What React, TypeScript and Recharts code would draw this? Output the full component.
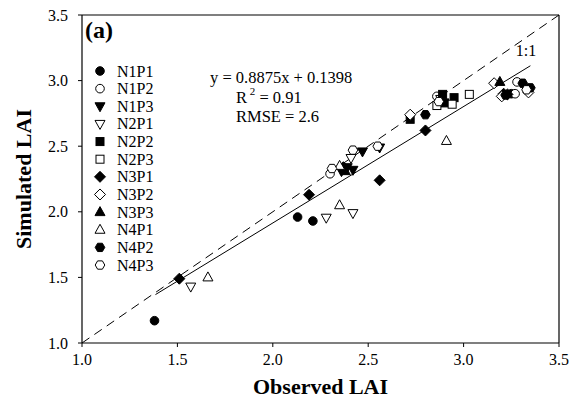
import React from 'react';
import { ScatterChart, Scatter, XAxis, YAxis, ReferenceLine, Customized } from 'recharts';

const xTicks = [1.0, 1.5, 2.0, 2.5, 3.0, 3.5];
const yTicks = [1.0, 1.5, 2.0, 2.5, 3.0, 3.5];

const N1P1 = [{ x: 1.38, y: 1.17 }, { x: 2.13, y: 1.96 }, { x: 2.21, y: 1.93 }, { x: 3.25, y: 2.9 }];
const N1P2 = [{ x: 2.3, y: 2.29 }, { x: 2.86, y: 2.88 }, { x: 3.28, y: 2.99 }, { x: 3.27, y: 2.9 }];
const N1P3 = [{ x: 2.36, y: 2.31 }, { x: 2.39, y: 2.34 }, { x: 2.42, y: 2.32 }, { x: 2.47, y: 2.46 }, { x: 2.56, y: 2.49 }];
const N2P1 = [{ x: 1.57, y: 1.43 }, { x: 2.28, y: 1.955 }, { x: 2.42, y: 1.99 }, { x: 2.41, y: 2.41 }, { x: 2.88, y: 2.86 }];
const N2P2 = [{ x: 2.72, y: 2.705 }, { x: 2.89, y: 2.895 }, { x: 2.9, y: 2.83 }, { x: 2.95, y: 2.87 }];
const N2P3 = [{ x: 2.86, y: 2.81 }, { x: 2.94, y: 2.82 }, { x: 3.03, y: 2.895 }];
const N3P1 = [{ x: 1.51, y: 1.49 }, { x: 2.19, y: 2.13 }, { x: 2.37, y: 2.34 }, { x: 2.56, y: 2.24 }, { x: 2.8, y: 2.62 }, { x: 3.21, y: 2.9 }, { x: 3.23, y: 2.895 }];
const N3P2 = [{ x: 2.72, y: 2.74 }, { x: 3.16, y: 2.98 }, { x: 3.2, y: 2.88 }, { x: 3.34, y: 2.91 }];
const N3P3 = [{ x: 3.19, y: 2.99 }, { x: 2.38, y: 2.31 }];
const N4P1 = [{ x: 1.66, y: 1.5 }, { x: 2.35, y: 2.05 }, { x: 2.91, y: 2.54 }, { x: 2.35, y: 2.35 }];
const N4P2 = [{ x: 2.8, y: 2.74 }, { x: 3.31, y: 2.98 }, { x: 3.35, y: 2.945 }, { x: 3.22, y: 2.89 }];
const N4P3 = [{ x: 2.31, y: 2.33 }, { x: 2.42, y: 2.47 }, { x: 2.55, y: 2.5 }, { x: 2.87, y: 2.84 }, { x: 3.33, y: 2.93 }];

const oneToOne = [{ x: 1.0, y: 1.0 }, { x: 3.5, y: 3.5 }];
const fitLine = [{ x: 1.385, y: 1.369 }, { x: 3.35, y: 3.113 }];

const FONT = '"Liberation Serif", "Times New Roman", serif';

type Kind = 'circle' | 'square' | 'diamond' | 'up' | 'down' | 'hex';

const Marker = ({ cx, cy, kind, filled }: { cx: number; cy: number; kind: Kind; filled: boolean }) => {
  const fill = filled ? '#000' : '#fff';
  const common = { fill, stroke: '#000', strokeWidth: 1 };
  if (kind === 'circle') return <circle cx={cx} cy={cy} r={4.3} {...common} />;
  if (kind === 'square') return <rect x={cx - 4} y={cy - 4} width={8} height={8} {...common} />;
  if (kind === 'diamond')
    return <polygon points={`${cx},${cy - 5.5} ${cx + 5.5},${cy} ${cx},${cy + 5.5} ${cx - 5.5},${cy}`} {...common} />;
  if (kind === 'up')
    return <polygon points={`${cx},${cy - 5.5} ${cx + 5},${cy + 3.5} ${cx - 5},${cy + 3.5}`} {...common} />;
  if (kind === 'down')
    return <polygon points={`${cx},${cy + 5.5} ${cx + 5},${cy - 3.5} ${cx - 5},${cy - 3.5}`} {...common} />;
  const pts: string[] = [];
  for (let i = 0; i < 6; i++) {
    const a = (Math.PI / 3) * i;
    pts.push(`${cx + 4.8 * Math.cos(a)},${cy + 4.8 * Math.sin(a)}`);
  }
  return <polygon points={pts.join(' ')} {...common} />;
};

const seriesList: { name: string; data: { x: number; y: number }[]; kind: Kind; filled: boolean }[] = [
  { name: 'N1P1', data: N1P1, kind: 'circle', filled: true },
  { name: 'N1P2', data: N1P2, kind: 'circle', filled: false },
  { name: 'N1P3', data: N1P3, kind: 'down', filled: true },
  { name: 'N2P1', data: N2P1, kind: 'down', filled: false },
  { name: 'N2P2', data: N2P2, kind: 'square', filled: true },
  { name: 'N2P3', data: N2P3, kind: 'square', filled: false },
  { name: 'N3P1', data: N3P1, kind: 'diamond', filled: true },
  { name: 'N3P2', data: N3P2, kind: 'diamond', filled: false },
  { name: 'N3P3', data: N3P3, kind: 'up', filled: true },
  { name: 'N4P1', data: N4P1, kind: 'up', filled: false },
  { name: 'N4P2', data: N4P2, kind: 'hex', filled: true },
  { name: 'N4P3', data: N4P3, kind: 'hex', filled: false },
];

const Annotations = () => (
  <g fontFamily={FONT} fill="#000">
    <text x={85} y={38} fontSize={24} fontWeight="bold">(a)</text>
    {seriesList.map((s, i) => (
      <g key={s.name}>
        <Marker cx={100} cy={71 + i * 17.64} kind={s.kind} filled={s.filled} />
        <text x={117} y={71 + i * 17.64} fontSize={16} dominantBaseline="central">{s.name}</text>
      </g>
    ))}
    <text x={210} y={77} fontSize={16.5} dominantBaseline="central">y = 0.8875x + 0.1398</text>
    <text x={236} y={97} fontSize={16.5} dominantBaseline="central">
      R<tspan fontSize={11} dy={-6}> 2</tspan><tspan dy={6}> = 0.91</tspan>
    </text>
    <text x={236} y={116} fontSize={16.5} dominantBaseline="central">RMSE = 2.6</text>
    <text x={526} y={50} fontSize={16} textAnchor="middle" dominantBaseline="central">1:1</text>
  </g>
);

const YTitle = (props: any) => {
  const vb = props.viewBox || { x: 0, y: 15, width: 82, height: 328 };
  const cx = 23;
  const cy = vb.y + vb.height / 2;
  return (
    <text x={cx} y={cy} transform={`rotate(-90, ${cx}, ${cy})`} textAnchor="middle" dominantBaseline="central"
      fontFamily={FONT} fontSize={22} fontWeight="bold" fill="#000">Simulated LAI</text>
  );
};

const XTitle = (props: any) => {
  const vb = props.viewBox || { x: 82, y: 343, width: 477, height: 59 };
  const cx = vb.x + vb.width / 2;
  return (
    <text x={cx} y={394} textAnchor="middle"
      fontFamily={FONT} fontSize={22} fontWeight="bold" fill="#000">Observed LAI</text>
  );
};

export default function App() {
  const tickStyle = { fontFamily: FONT, fontSize: 16, fill: '#000' };
  return (
    <div style={{ position: 'absolute', left: 0, top: 0, background: '#fff' }}>
      <ScatterChart width={580} height={402} margin={{ top: 15, right: 21, left: 0, bottom: 0 }}>
        <XAxis type="number" dataKey="x" domain={[1, 3.5]} ticks={xTicks} allowDataOverflow
          tickFormatter={(v: number) => v.toFixed(1)} height={59} tickSize={4} tickMargin={7}
          axisLine={{ stroke: '#000', strokeWidth: 1.2 }} tickLine={{ stroke: '#000' }} tick={tickStyle}
          label={<XTitle />} />
        <YAxis type="number" dataKey="y" domain={[1, 3.5]} ticks={yTicks} allowDataOverflow
          tickFormatter={(v: number) => v.toFixed(1)} width={82} tickSize={4} tickMargin={10}
          axisLine={{ stroke: '#000', strokeWidth: 1.2 }} tickLine={{ stroke: '#000' }} tick={tickStyle}
          label={<YTitle />} />
        <ReferenceLine y={3.5} stroke="#000" strokeWidth={1.2} />
        <ReferenceLine x={3.5} stroke="#000" strokeWidth={1.2} />
        <ReferenceLine segment={oneToOne} stroke="#000" strokeWidth={1} strokeDasharray="9 6" />
        <ReferenceLine segment={fitLine} stroke="#000" strokeWidth={1} />
        {seriesList.map((s) => (
          <Scatter key={s.name} name={s.name} data={s.data} isAnimationActive={false}
            shape={(p: any) => <Marker cx={p.cx} cy={p.cy} kind={s.kind} filled={s.filled} />} />
        ))}
        <Customized component={Annotations} />
      </ScatterChart>
    </div>
  );
}
